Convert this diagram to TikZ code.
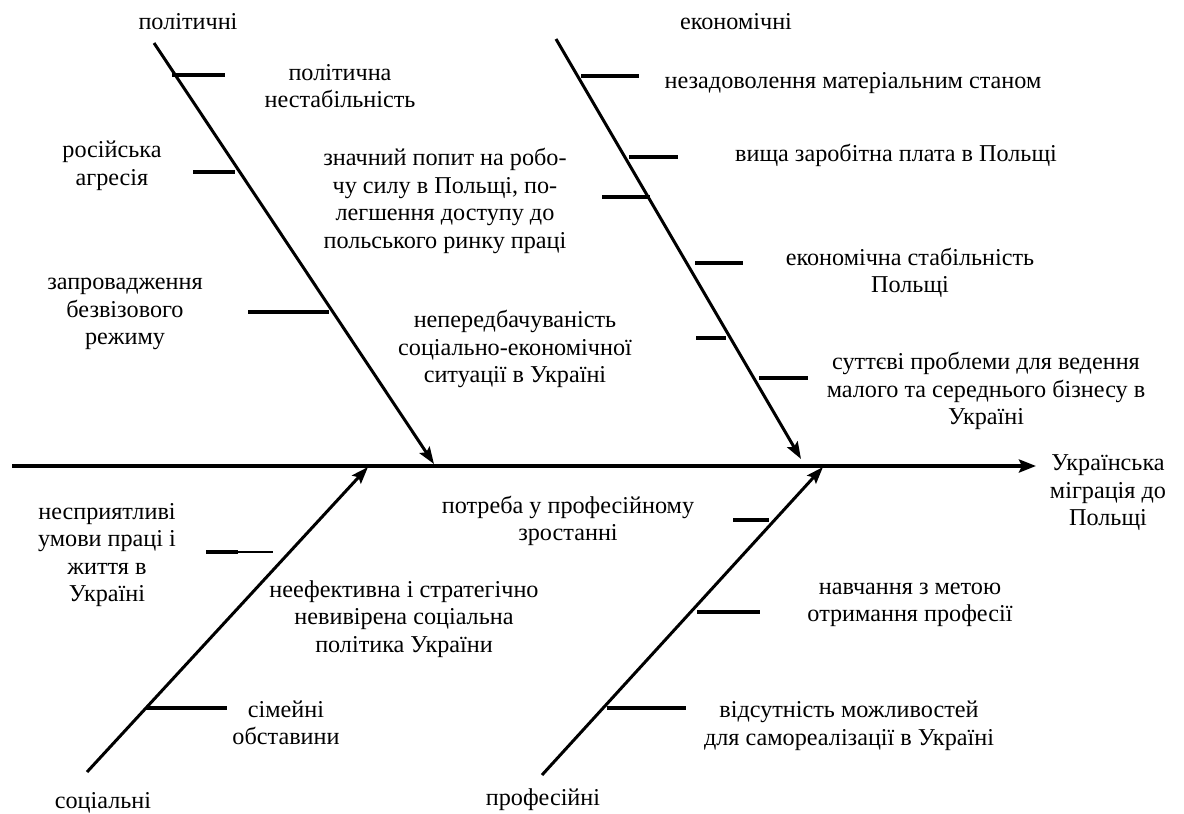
\documentclass[tikz,border=0pt]{standalone}
\usepackage{fontspec}
\setmainfont{Liberation Serif}
\usetikzlibrary{arrows.meta}

\tikzset{
	bone/.style = {line width=3pt, -{Stealth[length=17pt, width=12pt, inset=3pt]}},
	rib/.style = {line width=3.5pt},
	thinrib/.style = {line width=1.2pt},
	cause/.style = {align=center, inner sep=0pt, font=\fontsize{24.2}{27.5}\selectfont}
}

\begin{document}
\begin{tikzpicture}[x=1pt, y=1pt]

	\useasboundingbox (0,0) rectangle (1184,-814);

	% spine
	\coordinate (tail) at (12,-466);
	\coordinate (head) at (1036,-466);
	\draw[line width=3.5pt, -{Stealth[length=17pt, width=13pt, inset=3pt]}] (tail) -- (head);
	\node (effect) [cause] at (1108,-493) {Українська\\міграція до\\Польщі};

	% bones
	\coordinate (polTop) at (154,-43);
	\coordinate (polTip) at (434,-464);
	\coordinate (ecoTop) at (556,-39);
	\coordinate (ecoTip) at (801,-459);
	\coordinate (socTop) at (87,-772);
	\coordinate (socTip) at (368,-467);
	\coordinate (proTop) at (542,-775);
	\coordinate (proTip) at (823,-467);

	\path[bone] (polTop) edge (polTip);
	\path[bone] (ecoTop) edge (ecoTip);
	\path[bone] (socTop) edge (socTip);
	\path[bone] (proTop) edge (proTip);

	\node (pol) [cause] at (188,-22) {політичні};
	\node (eco) [cause] at (736,-22) {економічні};
	\node (soc) [cause] at (103,-803) {соціальні};
	\node (pro) [cause] at (543,-800) {професійні};

	% political causes
	\coordinate (p1a) at (172,-75);  \coordinate (p1b) at (225,-75);
	\coordinate (p2a) at (193,-172); \coordinate (p2b) at (235,-172);
	\coordinate (p3a) at (248,-312); \coordinate (p3b) at (329,-312);
	\draw[rib] (p1a) -- (p1b);
	\draw[rib] (p2a) -- (p2b);
	\draw[rib] (p3a) -- (p3b);
	\node (p1) [cause] at (340,-86) {політична\\нестабільність};
	\node (p2) [cause] at (112,-166) {російська\\агресія};
	\node (p3) [cause] at (125,-314) {запровадження\\безвізового\\режиму};
	\node (p4) [cause] at (445,-201) {значний попит на робо-\\чу силу в Польщі, по-\\легшення доступу до\\польського ринку праці};
	\node (p5) [cause] at (515,-349) {непередбачуваність\\соціально-економічної\\ситуації в Україні};

	% economic causes
	\coordinate (e1a) at (581,-76);  \coordinate (e1b) at (639,-76);
	\coordinate (e2a) at (629,-157); \coordinate (e2b) at (678,-157);
	\coordinate (e3a) at (602,-197); \coordinate (e3b) at (650,-197);
	\coordinate (e4a) at (695,-263); \coordinate (e4b) at (743,-263);
	\coordinate (e5a) at (696,-338); \coordinate (e5b) at (726,-338);
	\coordinate (e6a) at (759,-378); \coordinate (e6b) at (808,-378);
	\draw[rib] (e1a) -- (e1b);
	\draw[rib] (e2a) -- (e2b);
	\draw[rib] (e3a) -- (e3b);
	\draw[rib] (e4a) -- (e4b);
	\draw[rib] (e5a) -- (e5b);
	\draw[rib] (e6a) -- (e6b);
	\node (e1) [cause] at (853,-83) {незадоволення матеріальним станом};
	\node (e2) [cause] at (896,-155) {вища заробітна плата в Польщі};
	\node (e4) [cause] at (910,-273) {економічна стабільність\\Польщі};
	\node (e6) [cause] at (986,-391) {суттєві проблеми для ведення\\малого та середнього бізнесу в\\Україні};

	% social causes
	\coordinate (s1a) at (206,-552); \coordinate (s1m) at (238,-552); \coordinate (s1b) at (273,-552);
	\coordinate (s2a) at (146,-708); \coordinate (s2b) at (227,-708);
	\draw[rib] (s1a) -- (s1m);
	\draw[thinrib] (s1m) -- (s1b);
	\draw[rib] (s2a) -- (s2b);
	\node (s1) [cause] at (107,-555) {несприятливі\\умови праці і\\життя в\\Україні};
	\node (s3) [cause] at (404,-619) {неефективна і стратегічно\\невивірена соціальна\\політика України};
	\node (s2) [cause] at (286,-723) {сімейні\\обставини};

	% professional causes
	\coordinate (r1a) at (733,-520); \coordinate (r1b) at (769,-520);
	\coordinate (r2a) at (697,-612); \coordinate (r2b) at (760,-612);
	\coordinate (r3a) at (607,-708); \coordinate (r3b) at (686,-708);
	\draw[rib] (r1a) -- (r1b);
	\draw[rib] (r2a) -- (r2b);
	\draw[rib] (r3a) -- (r3b);
	\node (r1) [cause] at (568,-521) {потреба у професійному\\зростанні};
	\node (r2) [cause] at (910,-605) {навчання з метою\\отримання професії};
	\node (r3) [cause] at (849,-726) {відсутність можливостей\\для самореалізації в Україні};

\end{tikzpicture}
\end{document}
